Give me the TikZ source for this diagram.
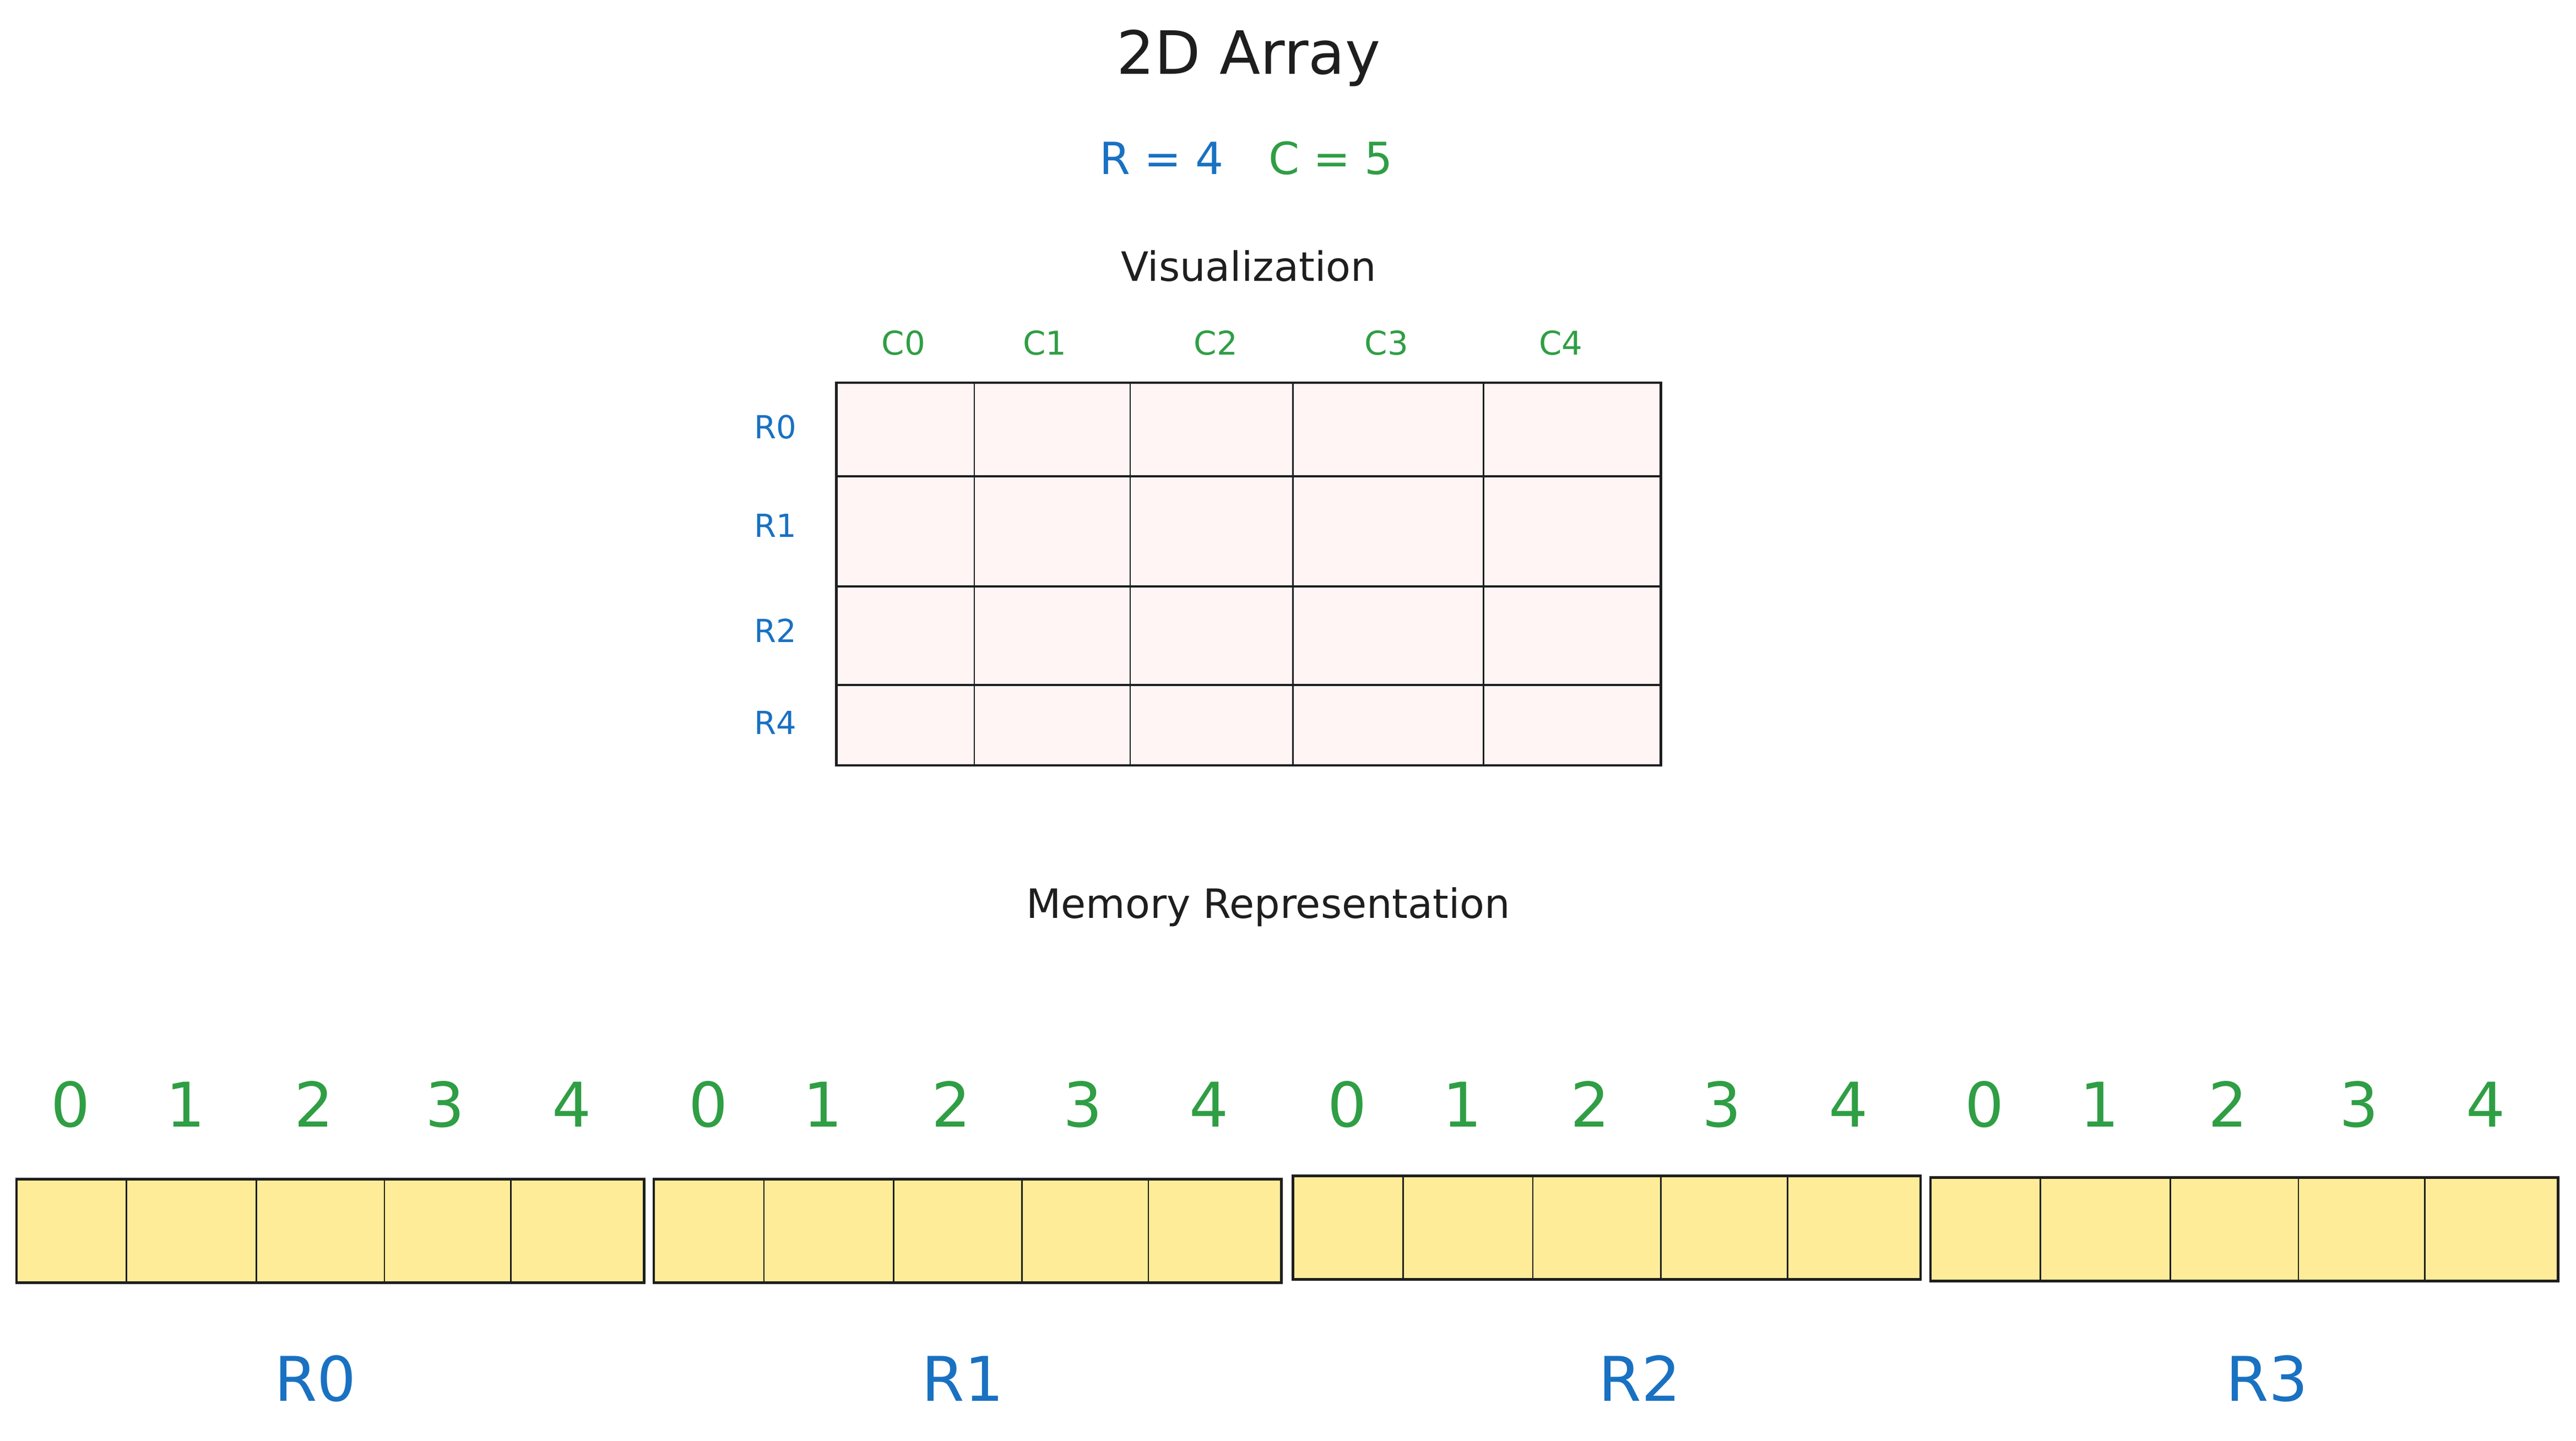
\documentclass[tikz,border=0pt]{standalone}
\usepackage{fontspec}
\setmainfont{DejaVu Sans}
\usepackage{xcolor}
\usepackage{tikz}
\usetikzlibrary{positioning}

\definecolor{inkblack}{HTML}{1E1E1E}
\definecolor{rowblue}{HTML}{1971C2}
\definecolor{colgreen}{HTML}{2F9E44}
\definecolor{gridfill}{HTML}{FFF5F5}
\definecolor{memfill}{HTML}{FFEC99}

\begin{document}
\begin{tikzpicture}[x=0.03cm, y=-0.03cm,
  title/.style={text=inkblack, anchor=base, font=\fontsize{31}{36}\selectfont},
  count/.style={anchor=base, font=\fontsize{23}{28}\selectfont},
  heading/.style={text=inkblack, anchor=base, font=\fontsize{21}{25}\selectfont},
  collab/.style={text=colgreen, anchor=base, font=\fontsize{17}{20}\selectfont},
  rowlab/.style={text=rowblue, anchor=base, font=\fontsize{16.5}{20}\selectfont},
  digit/.style={text=colgreen, anchor=base, font=\fontsize{32}{38}\selectfont},
  memlab/.style={text=rowblue, anchor=base, font=\fontsize{32}{38}\selectfont},
  boxline/.style={draw=inkblack, line width=1.3pt},
  thinline/.style={draw=inkblack, line width=0.7pt}]
  \fill[white] (0,0) rectangle (1568,877.35);
  \useasboundingbox (0,0) rectangle (1568,877.35);

  \node[title] (title) at (760,45) {2D Array};
  \node[count, text=rowblue] (rcount) at (707,106) {R = 4};
  \node[count, text=colgreen] (ccount) at (810,106) {C = 5};
  \node[heading] (vis) at (760,171) {Visualization};

  \draw[boxline, fill=gridfill] (509,233) rectangle (1011,466);
  \foreach \x in {593,688,787,903}
    \draw[thinline] (\x,233) -- (\x,466);
  \foreach \y in {290,357,417}
    \draw[boxline] (509,\y) -- (1011,\y);
  \foreach \x/\name in {550/C0, 636/C1, 740/C2, 844/C3, 950/C4}
    \node[collab] (col-\name) at (\x,216) {\name};
  \foreach \y/\name in {267/R0, 327/R1, 391/R2, 447/R4}
    \node[rowlab] (row-\name) at (472,\y) {\name};

  \node[heading] (mem) at (772,559) {Memory Representation};

  \foreach \g/\x/\y/\lx in {0/10/718/192, 1/398/718/586, 2/787/716/998, 3/1175/717/1380} {
    \draw[boxline, fill=memfill] (\x,\y) rectangle ++(382,63);
    \foreach \dx in {67,146,224,301}
      \draw[thinline] (\x+\dx,\y) -- (\x+\dx,\y+63);
    \foreach \i/\cx in {0/33, 1/103, 2/181, 3/261, 4/338}
      \node[digit] (idx-\g-\i) at (\x+\cx,686) {\i};
    \node[memlab] (mem-\g) at (\lx,853) {R\g};
  }
\end{tikzpicture}
\end{document}
